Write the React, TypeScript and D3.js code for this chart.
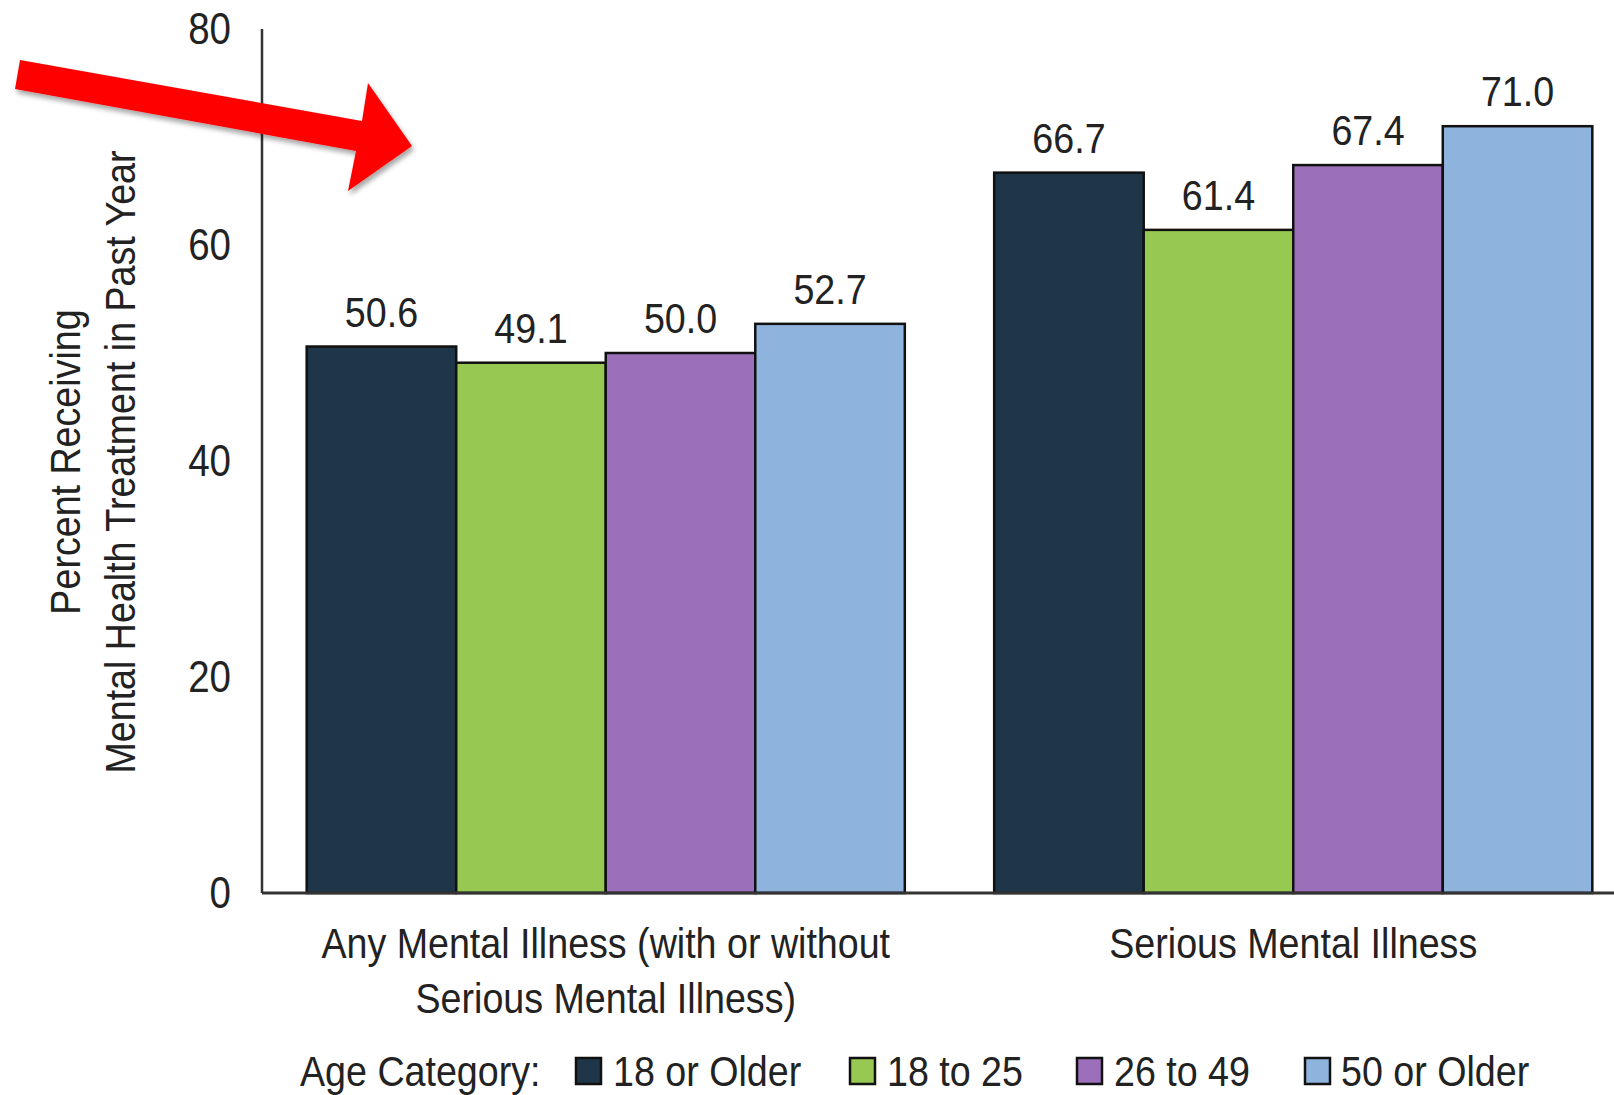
import React from "react";
import * as d3 from "d3";

const categories: string[][] = [
  ["Any Mental Illness (with or without", "Serious Mental Illness)"],
  ["Serious Mental Illness"],
];
const categoryKeys = ["AMI", "SMI"];
const series = ["18 or Older", "18 to 25", "26 to 49", "50 or Older"];
const colors = ["#1f3649", "#97c952", "#9b6fb9", "#8eb4de"];
const valuesAMI = [50.6, 49.1, 50.0, 52.7];
const valuesSMI = [66.7, 61.4, 67.4, 71.0];
const yTicks = [0, 20, 40, 60, 80];
const yTitle = ["Percent Receiving", "Mental Health Treatment in Past Year"];
const legendTitle = "Age Category:";

const FONT = "'Liberation Sans', Arial, sans-serif";
const SX = 0.875;
const W = 1614;
const H = 1095;
const TXT = "#222";

function CText(props: {
  x: number;
  y: number;
  anchor?: "start" | "middle" | "end";
  size?: number;
  dy?: string;
  children: React.ReactNode;
}) {
  const { x, y, anchor = "start", size = 44, dy, children } = props;
  return (
    <text
      transform={`translate(${x},${y}) scale(${SX},1)`}
      x={0}
      y={0}
      dy={dy}
      textAnchor={anchor}
      fontSize={size}
      fill={TXT}
    >
      {children}
    </text>
  );
}

export default function App() {
  const data = [valuesAMI, valuesSMI];
  const y = d3.scaleLinear().domain([0, 80]).range([893, 29]);
  const x0 = d3
    .scaleBand<string>()
    .domain(categoryKeys)
    .range([262, 1637])
    .paddingInner(0.13)
    .paddingOuter(0.065);
  const x1 = d3.scaleBand<string>().domain(series).range([0, x0.bandwidth()]).padding(0);

  const legendItems = [
    { sq: 576, tx: 613 },
    { sq: 850, tx: 887 },
    { sq: 1077, tx: 1114 },
    { sq: 1305, tx: 1341 },
  ];

  return (
    <svg
      width={W}
      height={H}
      style={{ position: "absolute", left: 0, top: 0, background: "#fff" }}
      fontFamily={FONT}
    >
      <defs>
        <filter id="shadow" x="-10%" y="-10%" width="130%" height="140%">
          <feDropShadow dx="2" dy="4" stdDeviation="2.5" floodColor="#000" floodOpacity="0.35" />
        </filter>
      </defs>
      <rect x={0} y={0} width={W} height={H} fill="#fff" />

      {/* y tick labels */}
      {yTicks.map((t) => (
        <CText key={t} x={231} y={y(t)} dy="0.35em" anchor="end" size={44}>
          {t}
        </CText>
      ))}

      {/* y axis title */}
      <g transform={`translate(80, 462) rotate(-90)`}>
        {yTitle.map((l, i) => (
          <CText key={i} x={0} y={i * 55} anchor="middle" size={43}>
            {l}
          </CText>
        ))}
      </g>

      {/* bars */}
      {categoryKeys.map((c, ci) => (
        <g key={c} transform={`translate(${x0(c)},0)`}>
          {series.map((s, si) => {
            const v = data[ci][si];
            return (
              <g key={s}>
                <rect
                  x={x1(s)}
                  y={y(v)}
                  width={x1.bandwidth()}
                  height={y(0) - y(v)}
                  fill={colors[si]}
                  stroke="#111"
                  strokeWidth={2.5}
                />
                <CText
                  x={(x1(s) as number) + x1.bandwidth() / 2}
                  y={y(v) - 20}
                  anchor="middle"
                  size={43}
                >
                  {v.toFixed(1)}
                </CText>
              </g>
            );
          })}
        </g>
      ))}

      {/* axes */}
      <line x1={262} x2={262} y1={29} y2={893} stroke="#333" strokeWidth={2.5} />
      <line x1={262} x2={1614} y1={893} y2={893} stroke="#333" strokeWidth={3} />

      {/* category labels */}
      {categoryKeys.map((c, ci) => (
        <g key={c}>
          {categories[ci].map((l, li) => (
            <CText
              key={li}
              x={(x0(c) as number) + x0.bandwidth() / 2}
              y={958 + li * 55}
              anchor="middle"
              size={43}
            >
              {l}
            </CText>
          ))}
        </g>
      ))}

      {/* legend */}
      <CText x={300} y={1086} size={43}>
        {legendTitle}
      </CText>
      {series.map((s, i) => (
        <g key={s}>
          <rect
            x={legendItems[i].sq}
            y={1058}
            width={25}
            height={26}
            fill={colors[i]}
            stroke="#111"
            strokeWidth={2.5}
          />
          <CText x={legendItems[i].tx} y={1086} size={43}>
            {s}
          </CText>
        </g>
      ))}

      {/* red arrow annotation */}
      <path
        d="M20,60 L362,121 L368,83 L412,146 L348,191 L356,151 L15,89 Z"
        fill="#ff0000"
        filter="url(#shadow)"
      />
    </svg>
  );
}
